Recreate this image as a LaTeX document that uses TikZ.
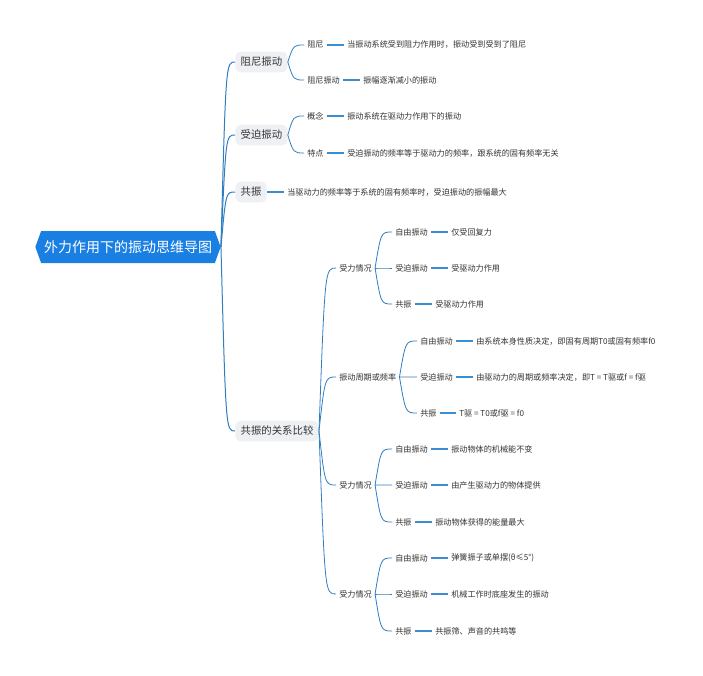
\documentclass[tikz,border=0pt]{standalone}
\usepackage{fontspec}
\setmainfont{Noto Sans CJK SC}
\usetikzlibrary{shapes.symbols,calc}
\definecolor{rootblue}{HTML}{1A7FE3}
\definecolor{lonegray}{HTML}{EEF0F4}
\definecolor{linkblue}{HTML}{2F7DC2}
\definecolor{leafblue}{HTML}{3C8CD0}
\definecolor{txt}{HTML}{333333}
\tikzset{
  rootnode/.style={signal, signal to=west and east, signal pointer angle=140,
    fill=rootblue, text=white, font=\fontsize{10.5}{12}\selectfont,
    minimum width=139pt, minimum height=24pt, inner xsep=2pt},
  lone/.style={fill=lonegray, rounded corners=4pt, text=txt, anchor=west,
    font=\fontsize{7.8}{9}\selectfont, inner xsep=4pt, minimum height=15.5pt},
  sm/.style={text=txt, anchor=west, font=\fontsize{6.1}{7}\selectfont,
    inner xsep=2.25pt, inner ysep=1pt},
  conn/.style={draw=linkblue, line width=0.75pt},
  thinconn/.style={draw=linkblue, line width=0.6pt},
  leafline/.style={draw=leafblue, line width=0.9pt},
}
\newcommand\brc[3][thinconn]{\draw[#1] (#2.east) .. controls ($(#2.east |- #3.west)!0.35!(#3.west)$) .. (#3.west);}
\begin{document}
\begin{tikzpicture}[x=0.75pt,y=-0.75pt]
\useasboundingbox (0,0) rectangle (703,675);
% root
\node[rootnode] (root) at (128,247) {外力作用下的振动思维导图};
% level 1
\node[lone] (n1) at (235,62) {阻尼振动};
\node[lone] (n2) at (235,135) {受迫振动};
\node[lone] (n3) at (235,192) {共振};
\node[lone] (n4) at (235,431) {共振的关系比较};
% level 2, first branches
\node[sm] (a1) at (304,45) {阻尼};
\node[sm] (a1l) at (344,45) {当振动系统受到阻力作用时，振动受到受到了阻尼};
\node[sm] (a2) at (304,80) {阻尼振动};
\node[sm] (a2l) at (360,80) {振幅逐渐减小的振动};
\node[sm] (b1) at (304,116) {概念};
\node[sm] (b1l) at (344,116) {振动系统在驱动力作用下的振动};
\node[sm] (b2) at (304,153) {特点};
\node[sm] (b2l) at (344,153) {受迫振动的频率等于驱动力的频率，跟系统的固有频率无关};
\node[sm] (n3l) at (284,192) {当驱动力的频率等于系统的固有频率时，受迫振动的振幅最大};
% comparison branch
\node[sm] (c1) at (336,268) {受力情况};
\node[sm] (c11) at (392,232) {自由振动};
\node[sm] (c11l) at (448,232) {仅受回复力};
\node[sm] (c12) at (392,268) {受迫振动};
\node[sm] (c12l) at (448,268) {受驱动力作用};
\node[sm] (c13) at (392,304) {共振};
\node[sm] (c13l) at (432,304) {受驱动力作用};
\node[sm] (c2) at (336,377) {振动周期或频率};
\node[sm] (c21) at (417,341) {自由振动};
\node[sm] (c21l) at (473,341) {由系统本身性质决定，即固有周期T0或固有频率f0};
\node[sm] (c22) at (417,377) {受迫振动};
\node[sm] (c22l) at (473,377) {由驱动力的周期或频率决定，即T = T驱或f = f驱};
\node[sm] (c23) at (417,413) {共振};
\node[sm] (c23l) at (456,413) {T驱 = T0或f驱 = f0};
\node[sm] (c3) at (336,485) {受力情况};
\node[sm] (c31) at (392,449) {自由振动};
\node[sm] (c31l) at (448,449) {振动物体的机械能不变};
\node[sm] (c32) at (392,485) {受迫振动};
\node[sm] (c32l) at (448,485) {由产生驱动力的物体提供};
\node[sm] (c33) at (392,522) {共振};
\node[sm] (c33l) at (432,522) {振动物体获得的能量最大};
\node[sm] (c4) at (336,594) {受力情况};
\node[sm] (c41) at (392,558) {自由振动};
\node[sm] (c41l) at (448,558) {弹簧振子或单摆(θ≤5°)};
\node[sm] (c42) at (392,594) {受迫振动};
\node[sm] (c42l) at (448,594) {机械工作时底座发生的振动};
\node[sm] (c43) at (392,631) {共振};
\node[sm] (c43l) at (432,631) {共振筛、声音的共鸣等};
% connectors from root
\brc[conn]{root}{n1}
\brc[conn]{root}{n2}
\brc[conn]{root}{n3}
\brc[conn]{root}{n4}
% braces
\brc{n1}{a1}
\brc{n1}{a2}
\brc{n2}{b1}
\brc{n2}{b2}
\brc{n4}{c1}
\brc{n4}{c2}
\brc{n4}{c3}
\brc{n4}{c4}
\brc{c1}{c11}
\brc{c1}{c12}
\brc{c1}{c13}
\brc{c2}{c21}
\brc{c2}{c22}
\brc{c2}{c23}
\brc{c3}{c31}
\brc{c3}{c32}
\brc{c3}{c33}
\brc{c4}{c41}
\brc{c4}{c42}
\brc{c4}{c43}
% leaf lines
\foreach \a/\b in {a1/a1l,a2/a2l,b1/b1l,b2/b2l,n3/n3l,c11/c11l,c12/c12l,c13/c13l,
  c21/c21l,c22/c22l,c23/c23l,c31/c31l,c32/c32l,c33/c33l,c41/c41l,c42/c42l,c43/c43l}
  \draw[leafline] (\a.east) -- (\b.west);
\end{tikzpicture}
\end{document}
